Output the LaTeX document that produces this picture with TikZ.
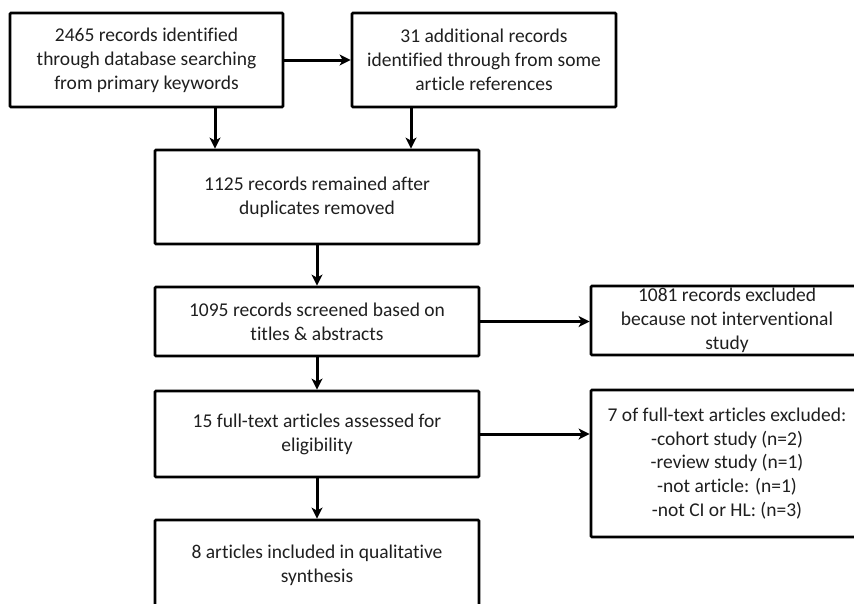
\documentclass[tikz,border=0pt]{standalone}
\usepackage{fontspec}
\setmainfont[RawFeature={-liga;-clig;-calt;-dlig}]{Carlito}
\usetikzlibrary{arrows.meta}
\begin{document}
\begin{tikzpicture}[x=1pt,y=-1pt,
  box/.style={draw=black, line width=2.8pt, rounded corners=1pt, fill=white,
    align=center, inner sep=0pt, text=black!88,
    font=\fontsize{19.5}{23.8}\selectfont},
  arr/.style={draw=black, line width=3pt, -{Stealth[length=11pt,width=11pt,inset=3pt]}}]
\useasboundingbox (0,0) rectangle (854,603);
\fill[white] (0,0) rectangle (854,603);
\node[box, minimum width=273pt, minimum height=94pt] (A) at (146.5,60)
  {2465 records identified\\through database searching\\from primary keywords};
\node[box, minimum width=264pt, minimum height=94pt] (B) at (484,60)
  {31 additional records\\identified through from some\\article references};
\node[box, minimum width=324pt, minimum height=94pt] (C) at (317,197)
  {1125 records remained after\\duplicates removed};
\node[box, minimum width=324pt, minimum height=69pt] (D) at (317,321.5)
  {1095 records screened based on\\titles \& abstracts};
\node[box, minimum width=272pt, minimum height=69pt] (E) at (727,320.5)
  {1081 records excluded\\because not interventional\\study};
\node[box, minimum width=324pt, minimum height=86pt] (F) at (317,434)
  {15 full-text articles assessed for\\eligibility};
\node[box, minimum width=272pt, minimum height=147pt] (G) at (727,463.5)
  {7 of full-text articles excluded:\\-cohort study (n=2)\\-review study (n=1)\\-not article: (n=1)\\-not CI or HL: (n=3)};
\node[box, minimum width=324pt, minimum height=90pt] (H) at (317,565)
  {8 articles included in qualitative\\synthesis};
\coordinate (a1) at ([xshift=68.5pt]A.south);
\coordinate (b1) at ([xshift=-73pt]B.south);
\draw[arr] (A.east) -- (B.west);
\draw[arr] (a1) -- (a1 |- C.north);
\draw[arr] (b1) -- (b1 |- C.north);
\draw[arr] (C.south) -- (D.north);
\draw[arr] (D.east) -- (D.east -| E.west);
\draw[arr] (D.south) -- (F.north);
\draw[arr] (F.east) -- (F.east -| G.west);
\draw[arr] (F.south) -- (H.north);
\end{tikzpicture}
\end{document}
